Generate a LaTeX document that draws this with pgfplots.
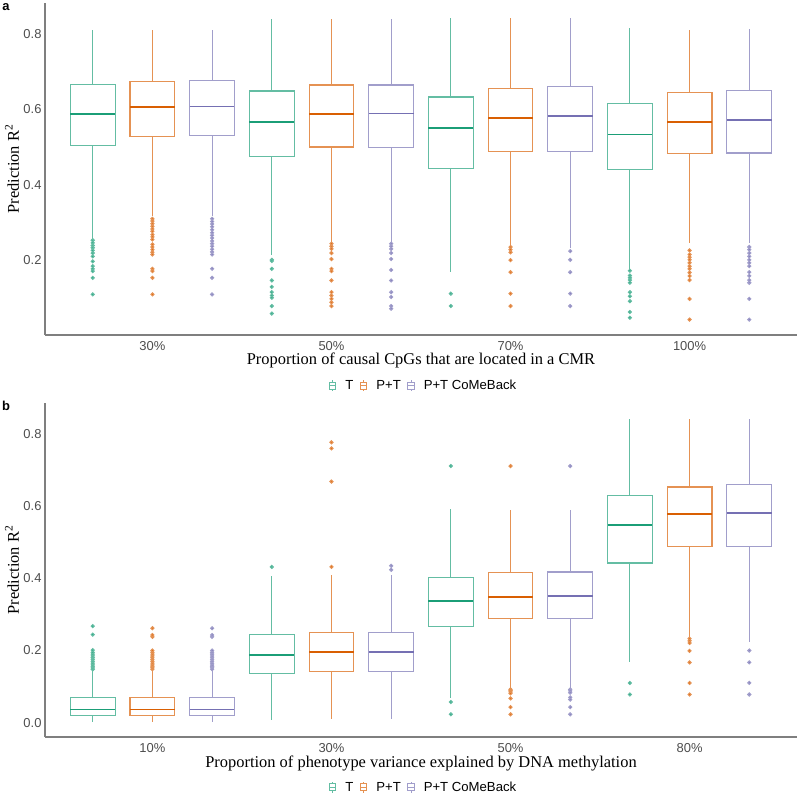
\documentclass[border=0pt]{standalone}
\usepackage{pgfplots}
\pgfplotsset{compat=1.18}
\usepgfplotslibrary{statistics}
\usepackage{fontspec}
\setmainfont{Liberation Serif}
\newfontfamily\sans{Liberation Sans}
\definecolor{cT}{HTML}{1B9E77}
\definecolor{cP}{HTML}{D95F02}
\definecolor{cC}{HTML}{7570B3}
\definecolor{axgray}{HTML}{7F7F7F}
\definecolor{tickgray}{HTML}{4D4D4D}

\newcommand{\bx}[8]{%
\addplot[forget plot, draw=#1!68!white, line width=1.1bp, mark=*, mark size=1.5bp,
  mark options={fill=#1, draw=none, solid},
  boxplot prepared={draw direction=y, draw position=#2, lower whisker=#3, lower quartile=#4, median=#5,
    upper quartile=#6, upper whisker=#7, box extend=0.25, whisker extend=0,
    every median/.style={draw=#1, line width=1.7bp}}]
  table[row sep=\\, y index=0] {#8};}

\pgfplotsset{
  bxleg/.style={legend image code/.code={
    \path[draw=none] (-1bp,0bp) (14bp,0bp);
    \draw[##1, line width=0.9bp] (0bp,-3.5bp) rectangle (6.5bp,3.5bp);
    \draw[##1, line width=0.9bp] (0bp,0bp) -- (6.5bp,0bp);
    \draw[##1, line width=0.9bp] (3.25bp,3.5bp) -- (3.25bp,5.5bp);
    \draw[##1, line width=0.9bp] (3.25bp,-3.5bp) -- (3.25bp,-5.5bp);}},
  panel/.style={scale only axis, width=752bp, xmin=0.4, xmax=4.6,
    axis x line*=bottom, axis y line*=left,
    axis line style={-, draw=axgray, line width=1.4bp},
    xtick={1,2,3,4}, major tick length=0pt,
    tick label style={font=\sans\fontsize{13}{15}\selectfont, text=tickgray},
    xticklabel style={anchor=north, text height=9.4bp, text depth=0bp, inner sep=0bp, yshift=-5.5bp},
    /pgf/number format/assume math mode=true,
    yticklabel style={/pgf/number format/.cd, fixed, fixed zerofill, precision=1},
    label style={font=\fontsize{16.5}{19}\selectfont},
    ylabel={Prediction R\textsuperscript{2}},
    ylabel style={at={(axis description cs:-0.044,0.5)}, anchor=center},
    legend style={draw=none, fill=none, legend columns=3,
      font=\sans\fontsize{13.2}{15}\selectfont,
      /tikz/every even column/.append style={column sep=4bp}},
    legend cell align=left,
    clip=false}
}

\begin{document}
\begin{tikzpicture}
\path[use as bounding box] (0,0) rectangle (800bp,796bp);

% ---------------- panel a ----------------
\begin{axis}[panel, at={(45bp,461bp)}, anchor=south west, height=332bp,
  ymin=0, ymax=0.883, ytick={0.2,0.4,0.6,0.8},
  xticklabels={30\%,50\%,70\%,100\%},
  xlabel={Proportion of causal CpGs that are located in a CMR},
  xlabel style={at={(axis description cs:0.5,-0.078)}, anchor=center},
  legend style={at={(0.503,-0.153)}, anchor=center}]
\addlegendimage{bxleg, draw=cT!68!white}\addlegendentry{T}
\addlegendimage{bxleg, draw=cP!68!white}\addlegendentry{P+T}
\addlegendimage{bxleg, draw=cC!68!white}\addlegendentry{P+T CoMeBack}
% 30%
\bx{cT}{0.6667}{0.256}{0.503}{0.588}{0.667}{0.810}{0.252\\0.245\\0.238\\0.232\\0.225\\0.218\\0.209\\0.196\\0.183\\0.176\\0.170\\0.152\\0.108\\}
\bx{cP}{1}{0.316}{0.529}{0.606}{0.675}{0.810}{0.309\\0.303\\0.296\\0.289\\0.282\\0.276\\0.267\\0.261\\0.254\\0.241\\0.234\\0.227\\0.220\\0.214\\0.176\\0.170\\0.152\\0.108\\}
\bx{cC}{1.3333}{0.316}{0.531}{0.608}{0.677}{0.810}{0.309\\0.302\\0.295\\0.288\\0.280\\0.272\\0.265\\0.258\\0.250\\0.243\\0.236\\0.228\\0.221\\0.214\\0.176\\0.152\\0.108\\}
% 50%
\bx{cT}{1.6667}{0.214}{0.475}{0.566}{0.649}{0.840}{0.200\\0.197\\0.176\\0.145\\0.128\\0.114\\0.105\\0.099\\0.077\\0.057\\}
\bx{cP}{2}{0.246}{0.500}{0.588}{0.665}{0.840}{0.243\\0.236\\0.229\\0.218\\0.202\\0.176\\0.170\\0.145\\0.114\\0.105\\0.096\\0.087\\0.077\\}
\bx{cC}{2.3333}{0.246}{0.499}{0.589}{0.665}{0.840}{0.243\\0.236\\0.229\\0.218\\0.202\\0.173\\0.145\\0.114\\0.101\\0.077\\0.070\\}
% 70%
\bx{cT}{2.6667}{0.167}{0.444}{0.550}{0.633}{0.844}{0.110\\0.077\\}
\bx{cP}{3}{0.238}{0.487}{0.578}{0.656}{0.844}{0.234\\0.227\\0.220\\0.199\\0.167\\0.110\\0.077\\}
\bx{cC}{3.3333}{0.232}{0.487}{0.582}{0.661}{0.844}{0.223\\0.200\\0.167\\0.110\\0.077\\}
% 100%
\bx{cT}{3.6667}{0.176}{0.439}{0.533}{0.616}{0.816}{0.171\\0.158\\0.152\\0.146\\0.139\\0.114\\0.103\\0.090\\0.061\\0.046\\}
\bx{cP}{4}{0.246}{0.482}{0.566}{0.646}{0.811}{0.225\\0.214\\0.207\\0.200\\0.192\\0.183\\0.176\\0.166\\0.157\\0.146\\0.096\\0.041\\}
\bx{cC}{4.3333}{0.246}{0.484}{0.571}{0.650}{0.814}{0.234\\0.227\\0.218\\0.209\\0.200\\0.192\\0.183\\0.167\\0.157\\0.146\\0.139\\0.096\\0.041\\}
\end{axis}

% ---------------- panel b ----------------
\begin{axis}[panel, at={(45bp,59bp)}, anchor=south west, height=334bp,
  ymin=-0.04, ymax=0.887, ytick={0,0.2,0.4,0.6,0.8},
  xticklabels={10\%,30\%,50\%,80\%},
  xlabel={Proportion of phenotype variance explained by DNA methylation},
  xlabel style={at={(axis description cs:0.5,-0.078)}, anchor=center},
  legend style={at={(0.503,-0.151)}, anchor=center}]
\addlegendimage{bxleg, draw=cT!68!white}\addlegendentry{T}
\addlegendimage{bxleg, draw=cP!68!white}\addlegendentry{P+T}
\addlegendimage{bxleg, draw=cC!68!white}\addlegendentry{P+T CoMeBack}
% 10%
\bx{cT}{0.6667}{0.002}{0.019}{0.036}{0.069}{0.145}{0.148\\0.152\\0.156\\0.160\\0.165\\0.170\\0.175\\0.180\\0.185\\0.190\\0.195\\0.201\\0.244\\0.2675\\}
\bx{cP}{1}{0.002}{0.019}{0.036}{0.069}{0.145}{0.148\\0.152\\0.156\\0.160\\0.165\\0.170\\0.175\\0.180\\0.185\\0.190\\0.195\\0.200\\0.238\\0.243\\0.262\\}
\bx{cC}{1.3333}{0.002}{0.019}{0.036}{0.069}{0.145}{0.148\\0.152\\0.156\\0.160\\0.165\\0.170\\0.175\\0.180\\0.185\\0.190\\0.195\\0.200\\0.238\\0.243\\0.262\\}
% 30%
\bx{cT}{1.6667}{0.006}{0.136}{0.187}{0.244}{0.406}{0.432\\}
\bx{cP}{2}{0.009}{0.1425}{0.196}{0.250}{0.409}{0.432\\0.669\\0.761\\0.778\\}
\bx{cC}{2.3333}{0.009}{0.1425}{0.196}{0.250}{0.409}{0.424\\0.435\\}
% 50%
\bx{cT}{2.6667}{0.067}{0.266}{0.338}{0.403}{0.592}{0.712\\0.057\\0.023\\}
\bx{cP}{3}{0.097}{0.288}{0.348}{0.417}{0.590}{0.712\\0.092\\0.089\\0.085\\0.081\\0.067\\0.043\\0.023\\}
\bx{cC}{3.3333}{0.097}{0.288}{0.351}{0.418}{0.590}{0.712\\0.092\\0.088\\0.083\\0.070\\0.064\\0.043\\0.023\\}
% 80%
\bx{cT}{3.6667}{0.167}{0.443}{0.549}{0.631}{0.8425}{0.110\\0.078\\}
\bx{cP}{4}{0.236}{0.488}{0.578}{0.654}{0.8425}{0.233\\0.227\\0.221\\0.199\\0.167\\0.110\\0.078\\}
\bx{cC}{4.3333}{0.223}{0.488}{0.582}{0.660}{0.8425}{0.200\\0.167\\0.110\\0.078\\}
\end{axis}

\node[font=\sans\bfseries\fontsize{13}{15}\selectfont, anchor=center] at (6bp,789bp) {a};
\node[font=\sans\bfseries\fontsize{13}{15}\selectfont, anchor=center] at (6bp,390bp) {b};
\end{tikzpicture}
\end{document}
